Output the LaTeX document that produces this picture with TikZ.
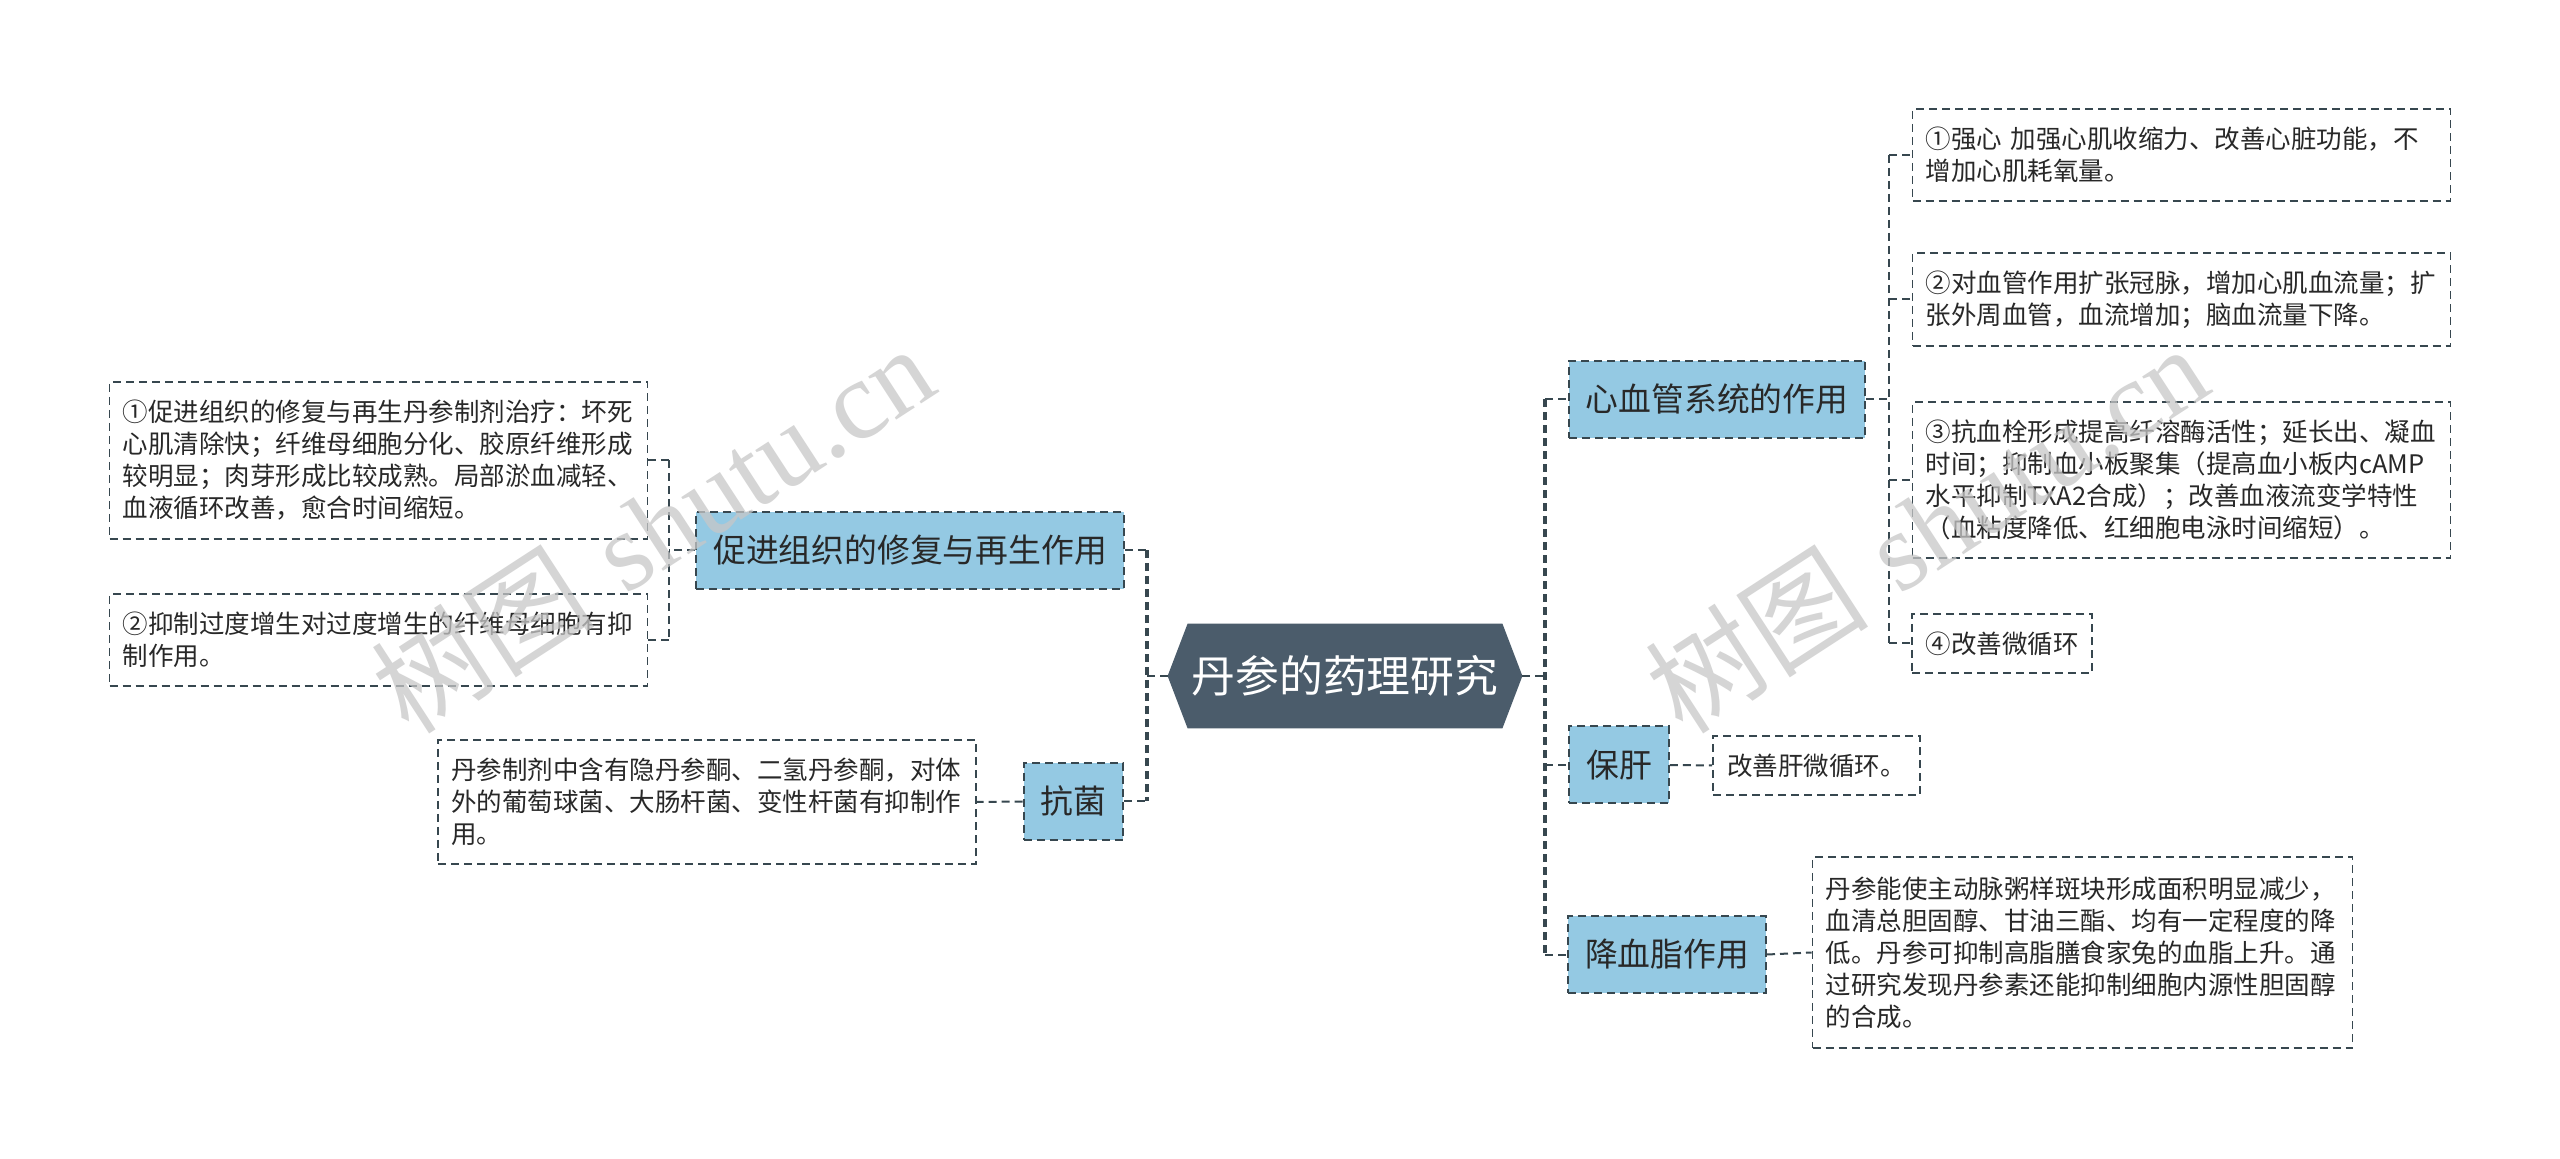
\documentclass[tikz,border=0pt]{standalone}
\usepackage{fontspec}
\newfontfamily\cjk{Noto Sans CJK SC}
\newfontfamily\wmserif{Liberation Serif}
\usetikzlibrary{calc,backgrounds}
\definecolor{boxblue}{RGB}{148,201,227}
\definecolor{rootfill}{RGB}{75,92,107}
\definecolor{linec}{RGB}{55,71,79}
\definecolor{txt}{RGB}{40,40,40}
\begin{document}
\begin{tikzpicture}[x=0.5pt,y=-0.5pt,
  branchbox/.style={draw=linec, dash pattern=on 4pt off 2.5pt, line width=1pt, fill=boxblue, text=txt,
    font=\cjk\fontsize{16.4pt}{20pt}\selectfont, inner xsep=8.5pt, inner ysep=0pt, minimum height=38.5pt},
  leafbox/.style={draw=linec, dash pattern=on 4pt off 2.5pt, line width=0.9pt, fill=white, text=txt,
    font=\cjk\fontsize{12.75pt}{16pt}\selectfont, align=left, inner xsep=6.5pt, inner ysep=0pt},
  rootbox/.style={text=white, font=\cjk\fontsize{21.9pt}{26pt}\selectfont, inner sep=0pt,
    minimum width=177pt, minimum height=52pt},
  conn/.style={draw=linec, dash pattern=on 4pt off 2.5pt, line width=1pt},
  trunk/.style={draw=linec, dash pattern=on 4pt off 2.5pt, line width=1.8pt},
  wm/.style={text=black!22, opacity=0.75, font=\fontsize{56pt}{60pt}\selectfont, inner sep=0pt}
]
\useasboundingbox (0,0) rectangle (2560,1159);

% root
\node[rootbox] (root) at (1345,676) {丹参的药理研究};
\begin{scope}[on background layer]
  \fill[white] (0,0) rectangle (2560,1159);
  \fill[rootfill] (root.west) -- ([xshift=10pt]root.north west) -- ([xshift=-10pt]root.north east)
    -- (root.east) -- ([xshift=-10pt]root.south east) -- ([xshift=10pt]root.south west) -- cycle;
\end{scope}

% left branches
\node[branchbox] (cj) at (910,550.5) {促进组织的修复与再生作用};
\node[branchbox] (kj) at (1073.5,801.5) {抗菌};

\node[leafbox, text width=256pt, minimum height=78.5pt] (l1) at (378.5,460.5)
  {①促进组织的修复与再生丹参制剂治疗：坏死\\心肌清除快；纤维母细胞分化、胶原纤维形成\\较明显；肉芽形成比较成熟。局部淤血减轻、\\血液循环改善，愈合时间缩短。};
\node[leafbox, text width=256pt, minimum height=46pt] (l2) at (378.5,640)
  {②抑制过度增生对过度增生的纤维母细胞有抑\\制作用。};
\node[leafbox, text width=256pt, minimum height=62pt] (kjl) at (707,802)
  {丹参制剂中含有隐丹参酮、二氢丹参酮，对体\\外的葡萄球菌、大肠杆菌、变性杆菌有抑制作\\用。};

% right branches
\node[branchbox] (xx) at (1717,399.5) {心血管系统的作用};
\node[branchbox] (bg) at (1619,765) {保肝};
\node[branchbox] (jx) at (1667,954.5) {降血脂作用};

\node[leafbox, text width=256pt, minimum height=46pt] (r1) at (2181.5,155)
  {①强心 加强心肌收缩力、改善心脏功能，不\\增加心肌耗氧量。};
\node[leafbox, text width=256pt, minimum height=46.5pt] (r2) at (2181.5,299.5)
  {②对血管作用扩张冠脉，增加心肌血流量；扩\\张外周血管，血流增加；脑血流量下降。};
\node[leafbox, text width=256pt, minimum height=78pt] (r3) at (2181.5,480)
  {③抗血栓形成提高纤溶酶活性；延长出、凝血\\时间；抑制血小板聚集（提高血小板内cAMP\\水平抑制TXA2合成）；改善血液流变学特性\\（血粘度降低、红细胞电泳时间缩短）。};
\node[leafbox, minimum width=90pt, minimum height=29.5pt] (r4) at (2002,643.5) {④改善微循环};
\node[leafbox, minimum width=103.5pt, minimum height=29.5pt] (bgl) at (1816.5,765.5) {改善肝微循环。};
\node[leafbox, text width=257pt, minimum height=95.5pt] (jxl) at (2082.5,952.5)
  {丹参能使主动脉粥样斑块形成面积明显减少，\\血清总胆固醇、甘油三酯、均有一定程度的降\\低。丹参可抑制高脂膳食家兔的血脂上升。通\\过研究发现丹参素还能抑制细胞内源性胆固醇\\的合成。};

% junction coordinates
\coordinate (lt) at (1147,676);
\coordinate (rt) at (1545,676);
\coordinate (lb) at (669,550.5);
\coordinate (rb) at (1889,399.5);

% left connectors
\draw[conn] (root.west) -- (lt);
\draw[trunk] (lt |- cj.east) -- (lt |- kj.east);
\draw[conn] (cj.east) -- (lt |- cj.east);
\draw[conn] (kj.east) -- (lt |- kj.east);
\draw[conn] (cj.west) -- (lb |- cj.west);
\draw[conn] (lb |- l1.east) -- (lb |- l2.east);
\draw[conn] (l1.east) -- (lb |- l1.east);
\draw[conn] (l2.east) -- (lb |- l2.east);
\draw[conn] (kj.west) -- (kjl.east);

% right connectors
\draw[conn] (root.east) -- (rt);
\draw[trunk] (rt |- xx.west) -- (rt |- jx.west);
\draw[conn] (rt |- xx.west) -- (xx.west);
\draw[conn] (rt |- bg.west) -- (bg.west);
\draw[conn] (rt |- jx.west) -- (jx.west);
\draw[conn] (xx.east) -- (rb |- xx.east);
\draw[conn] (rb |- r1.west) -- (rb |- r4.west);
\draw[conn] (rb |- r1.west) -- (r1.west);
\draw[conn] (rb |- r2.west) -- (r2.west);
\draw[conn] (rb |- r3.west) -- (r3.west);
\draw[conn] (rb |- r4.west) -- (r4.west);
\draw[conn] (bg.east) -- (bgl.west);
\draw[conn] (jx.east) -- (jxl.west);

% watermarks
\node[wm, rotate=33] (wm1) at (652,528) {{\cjk 树图} {\wmserif shutu.cn}};
\node[wm, rotate=33] (wm2) at (1926,528) {{\cjk 树图} {\wmserif shutu.cn}};
\end{tikzpicture}
\end{document}
